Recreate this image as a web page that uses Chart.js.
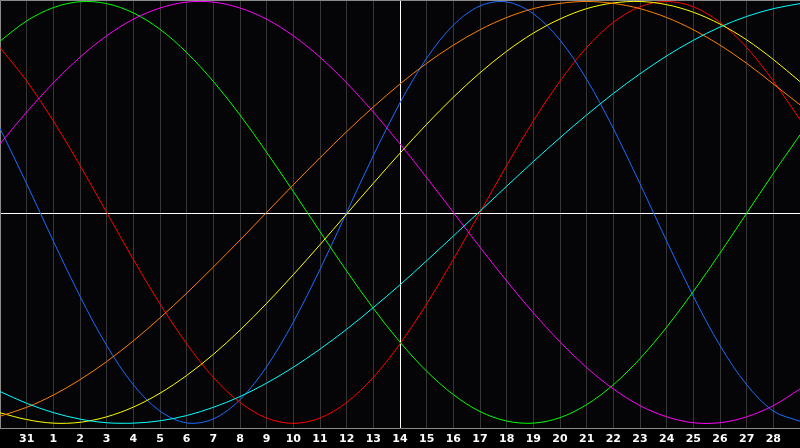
<!DOCTYPE html>
<html>
<head>
<meta charset="utf-8">
<script src="https://cdn.jsdelivr.net/npm/chart.js@4"></script>
<style>
html, body { margin: 0; padding: 0; background: #000; }
#wrap { width: 800px; height: 448px; }
</style>
</head>
<body>
<div id="wrap"><canvas id="bioChart" width="800" height="448"></canvas></div>
<script>
// day labels under each grid line (first and last line have no label)
const dayLabels = ['', '31', '1', '2', '3', '4', '5', '6', '7', '8', '9', '10', '11', '12', '13', '14',
    '15', '16', '17', '18', '19', '20', '21', '22', '23', '24', '25', '26', '27', '28', ''];

// values, one per grid line, -1..1
const physical = [0.398, 0.136, -0.136, -0.398, -0.631, -0.817, -0.942, -0.998, -0.979, -0.888, -0.731, -0.520, -0.270, 0.000, 0.270, 0.520,
    0.731, 0.888, 0.979, 0.998, 0.942, 0.817, 0.631, 0.398, 0.136, -0.136, -0.398, -0.631, -0.817, -0.942, -0.990];
const emotional = [0.782, 0.623, 0.434, 0.223, 0.000, -0.223, -0.434, -0.623, -0.782, -0.901, -0.975, -1.000, -0.975, -0.901, -0.782, -0.623,
    -0.434, -0.223, 0.000, 0.223, 0.434, 0.623, 0.782, 0.901, 0.975, 1.000, 0.975, 0.901, 0.782, 0.623, 0.440];
const intellectual = [0.812, 0.908, 0.971, 0.999, 0.990, 0.946, 0.868, 0.758, 0.621, 0.462, 0.285, 0.099, -0.091, -0.278, -0.455, -0.615,
    -0.753, -0.864, -0.944, -0.989, -0.999, -0.973, -0.911, -0.817, -0.693, -0.544, -0.375, -0.193, -0.004, 0.185, 0.368];
const intuitive = [0.325, 0.476, 0.614, 0.736, 0.837, 0.916, 0.969, 0.997, 0.997, 0.969, 0.916, 0.837, 0.736, 0.614, 0.476, 0.325,
    0.165, 0.000, -0.165, -0.325, -0.476, -0.614, -0.736, -0.837, -0.916, -0.969, -0.997, -0.997, -0.969, -0.916, -0.837];
const aesthetic = [-0.950, -0.982, -0.999, -0.995, -0.969, -0.923, -0.857, -0.773, -0.673, -0.558, -0.431, -0.295, -0.153, -0.007, 0.138, 0.281,
    0.418, 0.546, 0.662, 0.764, 0.850, 0.917, 0.966, 0.993, 1.000, 0.985, 0.949, 0.893, 0.818, 0.725, 0.620];
const awareness = [-0.966, -0.924, -0.866, -0.793, -0.707, -0.609, -0.500, -0.383, -0.259, -0.131, 0.000, 0.131, 0.259, 0.383, 0.500, 0.609,
    0.707, 0.793, 0.866, 0.924, 0.966, 0.991, 1.000, 0.991, 0.966, 0.924, 0.866, 0.793, 0.707, 0.609, 0.510];
const spiritual = [-0.849, -0.905, -0.949, -0.980, -0.997, -0.999, -0.988, -0.963, -0.924, -0.873, -0.809, -0.734, -0.648, -0.554, -0.451, -0.343,
    -0.229, -0.112, 0.006, 0.124, 0.241, 0.354, 0.462, 0.564, 0.657, 0.742, 0.816, 0.879, 0.929, 0.966, 0.990];

const frame = {
    id: 'frame',
    beforeDraw(chart) {
        const c = chart.ctx;
        const a = chart.chartArea;
        c.save();
        c.fillStyle = '#000';
        c.fillRect(0, 0, chart.width, chart.height);
        c.fillStyle = '#050507';
        c.fillRect(a.left, a.top, a.right - a.left, a.bottom - a.top);
        c.restore();
    },
    beforeDatasetsDraw(chart) {
        const c = chart.ctx;
        const a = chart.chartArea;
        const y0 = Math.round(chart.scales.y.getPixelForValue(0)) + 1.5;
        c.save();
        c.lineWidth = 1;
        c.strokeStyle = '#ffffff';
        c.beginPath();
        c.moveTo(a.left, y0);
        c.lineTo(a.right, y0);
        c.stroke();
        c.strokeStyle = '#8a8a8a';
        c.beginPath();
        c.moveTo(a.left + 0.5, a.bottom);
        c.lineTo(a.left + 0.5, a.top + 0.5);
        c.lineTo(a.right, a.top + 0.5);
        c.stroke();
        c.restore();
    }
};

function line(data, color) {
    return { data: data, borderColor: color, borderWidth: 1, pointRadius: 0, tension: 0.33, fill: false };
}

new Chart(document.getElementById('bioChart'), {
    type: 'line',
    data: {
        labels: dayLabels,
        datasets: [
            line(spiritual, '#00ffff'),
            line(awareness, '#ff8000'),
            line(aesthetic, '#ffff00'),
            line(intuitive, '#ff00ff'),
            line(intellectual, '#00ff00'),
            line(emotional, '#ff0000'),
            line(physical, '#1a6cff')
        ]
    },
    plugins: [frame],
    options: {
        responsive: false,
        devicePixelRatio: 1,
        animation: false,
        layout: { padding: 0, autoPadding: false },
        plugins: { legend: { display: false }, tooltip: { enabled: false } },
        scales: {
            x: {
                type: 'category',
                offset: false,
                afterFit(scale) {
                    scale.height = 20;
                    scale.paddingLeft = 0;
                    scale.paddingRight = 0;
                },
                border: { display: true, color: '#8a8a8a', width: 1 },
                grid: {
                    offset: false,
                    drawTicks: false,
                    lineWidth: 1,
                    color: ctx => ctx.index === 15 ? '#ffffff' : '#363636'
                },
                ticks: {
                    autoSkip: false,
                    maxRotation: 0,
                    padding: 5,
                    color: '#ffffff',
                    font: { family: 'DejaVu Sans', size: 11, weight: 'bold' }
                }
            },
            y: {
                display: false,
                min: -1.022,
                max: 1.007
            }
        }
    }
});
</script>
</body>
</html>
